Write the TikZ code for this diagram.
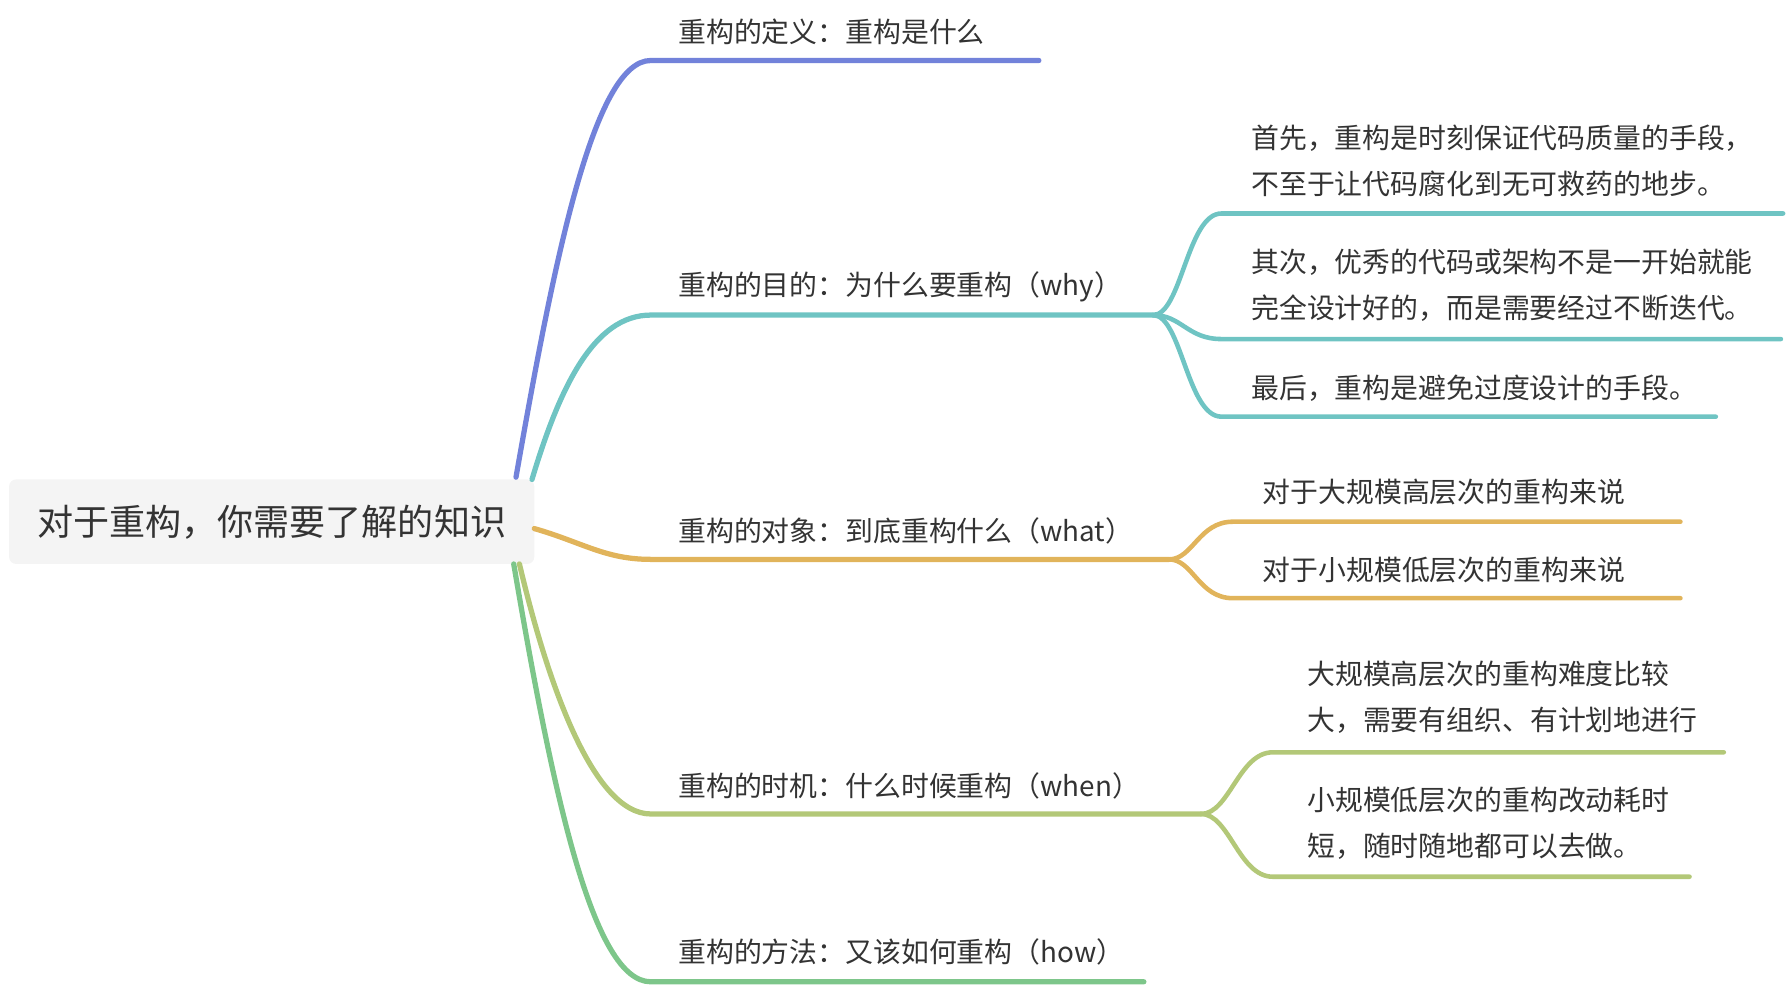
\documentclass[tikz,border=0pt]{standalone}
\usepackage{fontspec}
\newfontfamily\cjk{Noto Sans CJK SC}
\definecolor{cblue}{HTML}{7282DA}
\definecolor{cteal}{HTML}{6FC4C3}
\definecolor{corange}{HTML}{E1B45B}
\definecolor{cyg}{HTML}{B3C878}
\definecolor{cgreen}{HTML}{7DC68A}
\definecolor{ink}{HTML}{333333}
\definecolor{rootbg}{HTML}{F4F4F4}
\begin{document}
\begin{tikzpicture}[x=1pt,y=-1pt,
  txt/.style={font=\cjk\fontsize{24.4}{40.5}\selectfont, text=ink, inner sep=0pt, anchor=west, align=left},
  l1/.style={line width=4.6pt, line cap=round},
  l2/.style={line width=4pt, line cap=round}]
\useasboundingbox (0,0) rectangle (1568,864);
% root
\node[fill=rootbg, rounded corners=6pt, minimum width=460pt, minimum height=74pt, inner sep=0pt,
      font=\cjk\fontsize{31.6}{31.6}\selectfont, text=ink] (root) at (238,457) {对于重构，你需要了解的知识};
% level-1 coordinates
\coordinate (s1) at (452,418); \coordinate (c1) at (570,53);  \coordinate (e1) at (910,53);
\coordinate (s2) at (466,420); \coordinate (c2) at (570,276); \coordinate (e2) at (1010,276);
\coordinate (s3) at (468,463); \coordinate (c3) at (570,490); \coordinate (e3) at (1024,490);
\coordinate (s4) at (455,494); \coordinate (c4) at (570,713); \coordinate (e4) at (1052,713);
\coordinate (s5) at (450,494); \coordinate (c5) at (570,860); \coordinate (e5) at (1002,860);
% level-1 connectors
\draw[l1,cblue]   (s1) .. controls (485,230) and (520,53)  .. (c1) -- (e1);
\draw[l1,cteal]   (s2) .. controls (490,340) and (520,276) .. (c2) -- (e2);
\draw[l1,corange] (s3) .. controls (510,475) and (530,490) .. (c3) -- (e3);
\draw[l1,cyg]     (s4) .. controls (480,600) and (520,713) .. (c4) -- (e4);
\draw[l1,cgreen]  (s5) .. controls (485,700) and (520,860) .. (c5) -- (e5);
% level-1 labels
\node[txt] (n1) at (594,28)  {重构的定义：重构是什么};
\node[txt] (n2) at (594,251) {重构的目的：为什么要重构（why）};
\node[txt] (n3) at (594,465) {重构的对象：到底重构什么（what）};
\node[txt] (n4) at (594,688) {重构的时机：什么时候重构（when）};
\node[txt] (n5) at (594,834) {重构的方法：又该如何重构（how）};
% teal sub-branches
\coordinate (ta) at (1070,187); \coordinate (tae) at (1562,187);
\coordinate (tb) at (1070,297); \coordinate (tbe) at (1560,297);
\coordinate (tc) at (1070,365); \coordinate (tce) at (1503,365);
\draw[l2,cteal] (e2) .. controls (1035,276) and (1040,187) .. (ta) -- (tae);
\draw[l2,cteal] (e2) .. controls (1035,276) and (1040,297) .. (tb) -- (tbe);
\draw[l2,cteal] (e2) .. controls (1035,276) and (1040,365) .. (tc) -- (tce);
\node[txt] (t1) at (1096,141) {首先，重构是时刻保证代码质量的手段，\\不至于让代码腐化到无可救药的地步。};
\node[txt] (t2) at (1096,250) {其次，优秀的代码或架构不是一开始就能\\完全设计好的，而是需要经过不断迭代。};
\node[txt] (t3) at (1096,340) {最后，重构是避免过度设计的手段。};
% orange sub-branches
\coordinate (oa) at (1080,457); \coordinate (oae) at (1472,457);
\coordinate (ob) at (1080,524); \coordinate (obe) at (1472,524);
\draw[l2,corange] (e3) .. controls (1045,490) and (1050,457) .. (oa) -- (oae);
\draw[l2,corange] (e3) .. controls (1045,490) and (1050,524) .. (ob) -- (obe);
\node[txt] (o1) at (1106,431) {对于大规模高层次的重构来说};
\node[txt] (o2) at (1106,499) {对于小规模低层次的重构来说};
% yellow-green sub-branches
\coordinate (ya) at (1115,659); \coordinate (yae) at (1510,659);
\coordinate (yb) at (1115,768); \coordinate (ybe) at (1480,768);
\draw[l2,cyg] (e4) .. controls (1077,713) and (1085,659) .. (ya) -- (yae);
\draw[l2,cyg] (e4) .. controls (1077,713) and (1085,768) .. (yb) -- (ybe);
\node[txt] (y1) at (1145,611) {大规模高层次的重构难度比较\\大，需要有组织、有计划地进行};
\node[txt] (y2) at (1145,721) {小规模低层次的重构改动耗时\\短，随时随地都可以去做。};
\end{tikzpicture}
\end{document}
